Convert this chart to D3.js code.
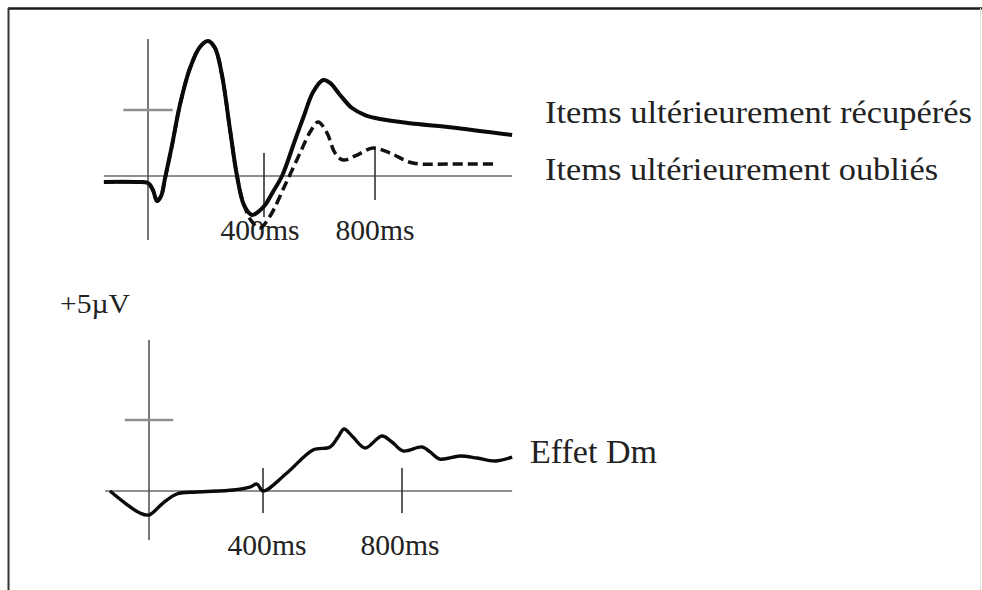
<!DOCTYPE html>
<html><head><meta charset="utf-8">
<script src="https://cdn.jsdelivr.net/npm/d3@7/dist/d3.min.js"></script>
<style>html,body{margin:0;padding:0;background:#fff;}svg{display:block;}</style>
</head><body>
<svg id="chart" width="982" height="590"></svg>
<script>
// ---- data ----
const tickValues = [400, 800];
const tickLabels = ["400ms", "800ms"];
const legendLabels = ["Items ultérieurement récupérés", "Items ultérieurement oubliés"];
const effectLabel = "Effet Dm";
const unitLabel = "+5µV";
const unitValue = 5;

// remembered items (solid), time in ms, amplitude in µV
const recupMs = [-152,-45,0,17,31,45,59,83,110,145,179,207,231,255,283,307,331,359,379,404,432,465,512,541,577,613,638,674,717,764,818,926,1070,1294];
const recupUv = [-0.45,-0.45,-0.53,-1.06,-1.89,-1.52,-0.15,2.35,5.38,8.18,9.77,10.23,9.7,7.65,3.48,0,-2.2,-2.95,-2.73,-2.2,-1.21,0,2.73,4.39,6.36,7.27,7.05,6.14,5.15,4.62,4.32,4.0,3.7,3.1];

// forgotten items (dashed)
const oubliMs = [-152,-45,0,17,31,45,59,83,110,145,179,207,231,255,283,307,331,359,386,422,476,530,566,595,627,656,685,735,793,854,937,1070,1233];
const oubliUv = [-0.45,-0.45,-0.53,-1.06,-1.89,-1.52,-0.15,2.35,5.38,8.18,9.77,10.23,9.7,7.65,3.48,0,-2.2,-3.48,-3.94,-3.03,-0.68,1.74,3.33,4.09,3.26,1.74,1.21,1.59,2.12,1.74,0.98,0.91,0.91];

// Dm effect (difference)
const dmMs = [-137,-84,-32,0,49,98,168,295,354,379,400,469,544,593,616,633,659,694,742,771,803,858,881,909,967,1016,1068,1117];
const dmUv = [0,-0.85,-1.55,-1.69,-0.85,-0.21,-0.07,0.07,0.28,0.49,0,1.27,2.89,3.1,3.8,4.37,3.8,3.03,3.87,3.45,2.82,3.1,2.75,2.25,2.46,2.32,2.11,2.39];

// ---- drawing ----
const svg = d3.select("#chart");
const FONT = "'Liberation Serif','Times New Roman',Times,serif";

// frame
svg.append("line").attr("x1",8).attr("x2",982).attr("y1",8.5).attr("y2",8.5).attr("stroke","#1a1a1a").attr("stroke-width",2.5);
svg.append("line").attr("x1",8.5).attr("x2",8.5).attr("y1",8).attr("y2",590).attr("stroke","#333").attr("stroke-width",2);
svg.append("line").attr("x1",980.5).attr("x2",980.5).attr("y1",8).attr("y2",590).attr("stroke","#ddd").attr("stroke-width",1);

function panel(cfg){
  const x = d3.scaleLinear().domain([0,400,800]).range(cfg.xr);
  const y = d3.scaleLinear().domain([0,5]).range(cfg.yr);
  const g = svg.append("g");
  g.append("line").attr("x1",x(cfg.base[0])).attr("x2",x(cfg.base[1]))
    .attr("y1",y(0)).attr("y2",y(0)).attr("stroke","#6a6a6a").attr("stroke-width",1.6);
  g.append("line").attr("x1",x(0)).attr("x2",x(0))
    .attr("y1",y(cfg.vert[0])).attr("y2",y(cfg.vert[1])).attr("stroke","#555").attr("stroke-width",1.6);
  g.append("line").attr("x1",x(-85)).attr("x2",x(85))
    .attr("y1",y(unitValue)).attr("y2",y(unitValue)).attr("stroke","#909090").attr("stroke-width",2.6);
  tickValues.forEach((t,i)=>{
    g.append("line").attr("x1",x(t)).attr("x2",x(t))
      .attr("y1",y(cfg.tick[i][0])).attr("y2",y(cfg.tick[i][1])).attr("stroke","#333").attr("stroke-width",1.6);
    g.append("text").attr("x",x(t)+cfg.lblDx[i]).attr("y",cfg.lblY).attr("text-anchor","middle")
      .attr("font-family",FONT).attr("font-size",29).attr("fill","#222")
      .attr("textLength",79).attr("lengthAdjust","spacingAndGlyphs").text(tickLabels[i]);
  });
  return {x,y,g};
}

const topPanel = panel({xr:[148,264,375], yr:[176,110], base:[-152,1294], vert:[10.38,-4.85],
  tick:[[1.74,-3.1],[2.12,-1.82]], lblY:240, lblDx:[-4,0]});
const botPanel = panel({xr:[149,263,402], yr:[491,420], base:[-154,1117], vert:[10.63,-3.45],
  tick:[[1.62,-1.55],[1.62,-1.55]], lblY:555, lblDx:[4,-2]});

function lineGen(p){
  return d3.line().x(d=>p.x(d[0])).y(d=>p.y(d[1])).curve(d3.curveCatmullRom.alpha(0.5));
}
const oubli = oubliMs.map((m,i)=>[m,oubliUv[i]]);
const recup = recupMs.map((m,i)=>[m,recupUv[i]]);
const dm = dmMs.map((m,i)=>[m,dmUv[i]]);

topPanel.g.append("path").datum(oubli).attr("d",lineGen(topPanel)).attr("fill","none")
  .attr("stroke","#111").attr("stroke-width",3.5).attr("stroke-dasharray","10,5");
topPanel.g.append("path").datum(recup).attr("d",lineGen(topPanel)).attr("fill","none")
  .attr("stroke","#0a0a0a").attr("stroke-width",4).attr("stroke-linejoin","round");
botPanel.g.append("path").datum(dm).attr("d",lineGen(botPanel)).attr("fill","none")
  .attr("stroke","#0a0a0a").attr("stroke-width",3.4).attr("stroke-linejoin","round");

const legendY = [123,180], legendW = [427,393];
legendLabels.forEach((t,i)=>{
  svg.append("text").attr("x",545).attr("y",legendY[i]).attr("font-family",FONT).attr("font-size",31)
    .attr("fill","#222").attr("textLength",legendW[i]).attr("lengthAdjust","spacingAndGlyphs").text(t);
});
svg.append("text").attr("x",530).attr("y",463).attr("font-family",FONT).attr("font-size",33)
  .attr("fill","#222").attr("textLength",127).attr("lengthAdjust","spacingAndGlyphs").text(effectLabel);
svg.append("text").attr("x",60).attr("y",313).attr("font-family",FONT).attr("font-size",27)
  .attr("fill","#222").attr("textLength",70).attr("lengthAdjust","spacingAndGlyphs").text(unitLabel);
</script>
</body></html>
